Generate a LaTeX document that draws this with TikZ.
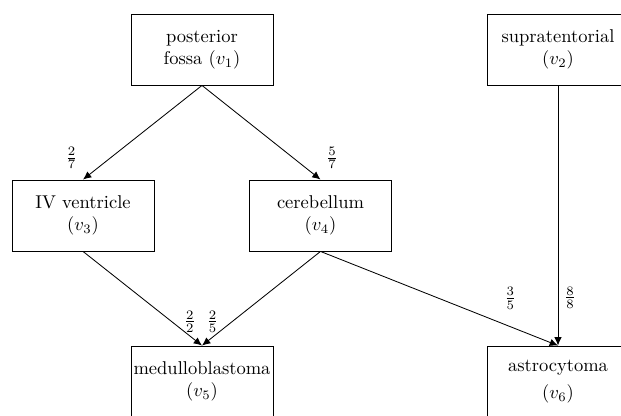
\documentclass[tikz,border=0pt]{standalone}
\usetikzlibrary{arrows.meta}
\begin{document}
\begin{tikzpicture}[x=0.54pt,y=-0.54pt,
  box/.style={draw,line width=0.5pt,align=center,minimum width=76.7pt,minimum height=38.3pt,inner sep=0pt,font=\normalsize},
  conn/.style={-{Latex[length=4.5pt,width=4pt]},line width=0.45pt},
  lbl/.style={inner sep=0pt,font=\normalsize}]
\useasboundingbox (0,0) rectangle (621,415);
\clip (0,0) rectangle (621,415);
\node[box] (v1) at (202,49.5) {posterior\\fossa ($v_1$)};
\node[box] (v2) at (558,49.5) {supratentorial\\($v_2$)};
\node[box] (v3) at (83,215.5) {IV ventricle\\($v_3$)};
\node[box] (v4) at (320.5,215.5) {cerebellum\\($v_4$)};
\node[box] (v5) at (202,381.5) {medulloblastoma\\($v_5$)};
\node[box] (v6) at (558,381.5) {astrocytoma\\[2.5pt]($v_6$)};
\draw[conn] (v1.south) -- node[lbl,pos=0.77,xshift=-21pt] {$\frac{2}{7}$} (v3.north);
\draw[conn] (v1.south) -- node[lbl,pos=0.77,xshift=21pt] {$\frac{5}{7}$} (v4.north);
\draw[conn] (v3.south) -- node[lbl,pos=0.747,xshift=9.7pt] {$\frac{2}{2}$} (v5.north);
\draw[conn] (v4.south) -- node[lbl,pos=0.747,xshift=-10.5pt] {$\frac{2}{5}$} (v5.north);
\draw[conn] (v4.south) -- node[lbl,pos=0.495,xshift=39pt] {$\frac{3}{5}$} (v6.north);
\draw[conn] (v2.south) -- node[lbl,pos=0.816,xshift=6.5pt] {$\frac{8}{8}$} (v6.north);
\end{tikzpicture}
\end{document}
